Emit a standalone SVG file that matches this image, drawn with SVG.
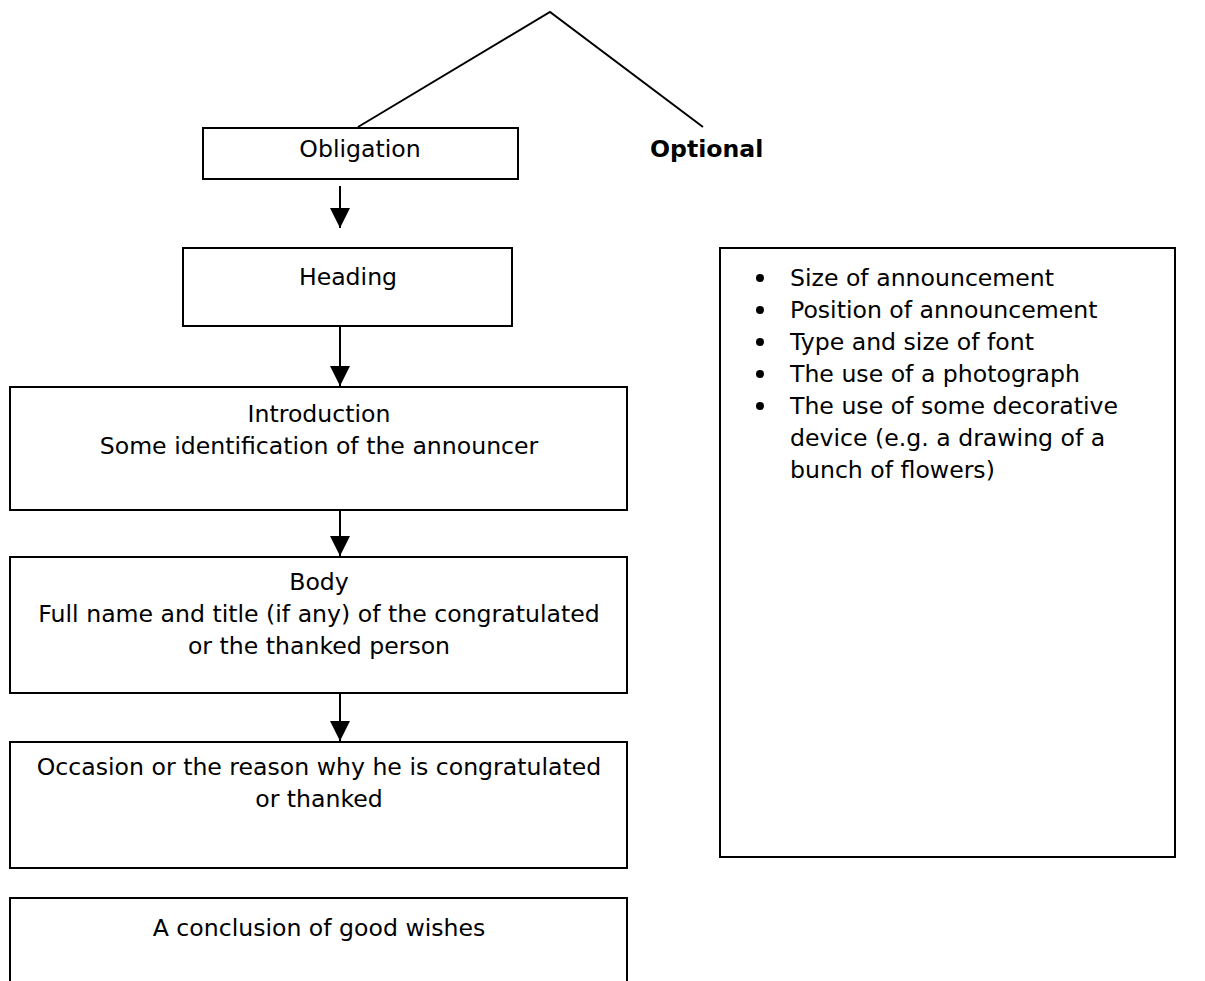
<svg xmlns="http://www.w3.org/2000/svg" width="1205" height="981" viewBox="0 0 1205 981">
<style>
.box{fill:#fff;stroke:#000;stroke-width:2}
.t{font-family:"DejaVu Sans","Liberation Sans",sans-serif;font-size:23.6px;fill:#000}
.c{text-anchor:middle}
.b{font-weight:bold}
.ln{stroke:#000;stroke-width:2;fill:none}
</style>
<defs>
<marker id="ah" markerUnits="userSpaceOnUse" markerWidth="20" markerHeight="20" refX="20" refY="10" orient="auto" viewBox="0 0 20 20">
<path d="M0,0 L20,10 L0,20 Z" fill="#000"/>
</marker>
</defs>
<rect width="1205" height="981" fill="#fff"/>
<g id="connectors">
<polyline class="ln" points="358,127 550,12 703,127"/>
<line class="ln" x1="340" y1="186" x2="340" y2="228" marker-end="url(#ah)"/>
<line class="ln" x1="340" y1="326" x2="340" y2="386" marker-end="url(#ah)"/>
<line class="ln" x1="340" y1="510" x2="340" y2="556" marker-end="url(#ah)"/>
<line class="ln" x1="340" y1="693" x2="340" y2="741" marker-end="url(#ah)"/>
</g>
<g id="obligation">
<rect class="box" x="203" y="128" width="315" height="51"/>
<text class="t c" x="360" y="157">Obligation</text>
</g>
<g id="optional">
<text class="t b" x="650" y="157">Optional</text>
</g>
<g id="heading">
<rect class="box" x="183" y="248" width="329" height="78"/>
<text class="t c" x="348" y="285">Heading</text>
</g>
<g id="introduction">
<rect class="box" x="10" y="387" width="617" height="123"/>
<text class="t c" x="319" y="422">Introduction</text>
<text class="t c" x="319" y="454">Some identification of the announcer</text>
</g>
<g id="body">
<rect class="box" x="10" y="557" width="617" height="136"/>
<text class="t c" x="319" y="590">Body</text>
<text class="t c" x="319" y="622">Full name and title (if any) of the congratulated</text>
<text class="t c" x="319" y="654">or the thanked person</text>
</g>
<g id="occasion">
<rect class="box" x="10" y="742" width="617" height="126"/>
<text class="t c" x="319" y="775">Occasion or the reason why he is congratulated</text>
<text class="t c" x="319" y="807">or thanked</text>
</g>
<g id="conclusion">
<rect class="box" x="10" y="898" width="617" height="100"/>
<text class="t c" x="319" y="936">A conclusion of good wishes</text>
</g>
<g id="optional-list">
<rect class="box" x="720" y="248" width="455" height="609"/>
<g fill="#000">
<circle cx="760" cy="278" r="4"/>
<circle cx="760" cy="310" r="4"/>
<circle cx="760" cy="342" r="4"/>
<circle cx="760" cy="374" r="4"/>
<circle cx="760" cy="406" r="4"/>
</g>
<text class="t" x="790" y="286">Size of announcement</text>
<text class="t" x="790" y="318">Position of announcement</text>
<text class="t" x="790" y="350">Type and size of font</text>
<text class="t" x="790" y="382">The use of a photograph</text>
<text class="t" x="790" y="414">The use of some decorative</text>
<text class="t" x="790" y="446">device (e.g. a drawing of a</text>
<text class="t" x="790" y="478">bunch of flowers)</text>
</g>
</svg>
